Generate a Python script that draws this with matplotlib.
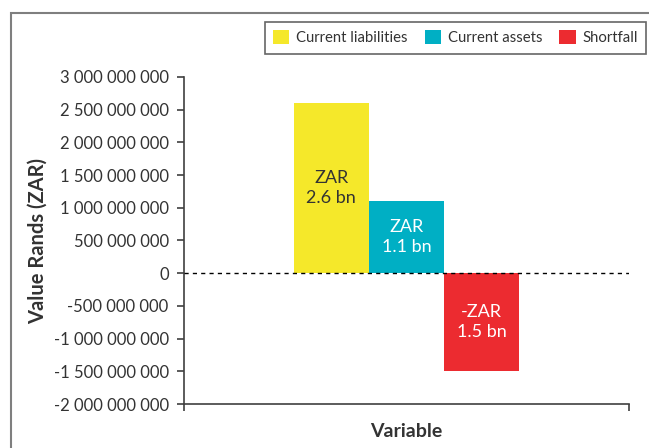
import matplotlib
matplotlib.use("Agg")
import matplotlib.pyplot as plt
from matplotlib.patches import Rectangle
from matplotlib.ticker import FuncFormatter

# data
series = ["Current liabilities", "Current assets", "Shortfall"]
values = [2.6e9, 1.1e9, -1.5e9]
bar_labels = ["ZAR\n2.6 bn", "ZAR\n1.1 bn", "-ZAR\n1.5 bn"]
colors = ["#F5E82A", "#00AFC4", "#EC2B30"]
text_colors = ["#333333", "white", "white"]
yticks = [-2e9, -1.5e9, -1e9, -5e8, 0, 5e8, 1e9, 1.5e9, 2e9, 2.5e9, 3e9]

plt.rcParams["font.family"] = ["Lato", "DejaVu Sans"]

fig = plt.figure(figsize=(6.49, 4.48), dpi=100)
ax = fig.add_axes([184 / 649, 1 - 404 / 448, 445 / 649, 327 / 448])

# outer chart frame (only left/top visible in the crop)
fig.patches.append(Rectangle((11 / 649, -0.1), 1.2, 1 - 13 / 448 + 0.1,
                             transform=fig.transFigure, fill=False,
                             edgecolor="#7f7f7f", linewidth=1.5))

width = 0.169
offsets = [-width, 0, width]
handles = []
for s, v, lab, c, tc, off in zip(series, values, bar_labels, colors, text_colors, offsets):
    b = ax.bar(0.5 + off, v, width=width, color=c, label=s, zorder=2)
    handles.append(b)
    ax.text(0.5 + off, v / 2, lab, ha="center", va="center", color=tc,
            fontsize=13, linespacing=1.3, zorder=3)

ax.axhline(0, color="black", linestyle=(0, (3, 3)), linewidth=1, zorder=3)

ax.set_xlim(0, 1)
ax.set_ylim(-2e9, 3e9)
ax.set_yticks(yticks)
ax.yaxis.set_major_formatter(FuncFormatter(lambda v, p: f"{int(v):,}".replace(",", " ")))
ax.set_xticks([0, 1])
ax.set_xticklabels([])
ax.tick_params(axis="x", length=5, width=1.2, color="#404040")
ax.tick_params(axis="y", length=5, width=1.2, color="#404040", labelsize=12,
               labelcolor="#333333", pad=6)

for side in ["top", "right"]:
    ax.spines[side].set_visible(False)
for side in ["left", "bottom"]:
    ax.spines[side].set_color("#404040")
    ax.spines[side].set_linewidth(1.2)

ax.set_ylabel("Value Rands (ZAR)", fontsize=14.5, fontweight="bold", color="#333333",
              labelpad=4)
ax.set_xlabel("Variable", fontsize=14, fontweight="bold", color="#333333", labelpad=5)

leg = fig.legend(handles=handles, labels=series, loc="upper right",
                 bbox_to_anchor=(646 / 649, 1 - 22 / 448), borderaxespad=0,
                 ncol=3, fontsize=10.7,
                 frameon=True, fancybox=False, edgecolor="#404040",
                 handlelength=1.1, handleheight=1.1, handletextpad=0.45,
                 columnspacing=1.15, borderpad=0.55, labelcolor="#333333")
leg.get_frame().set_linewidth(1.2)

fig.savefig("out.png", dpi=100)
